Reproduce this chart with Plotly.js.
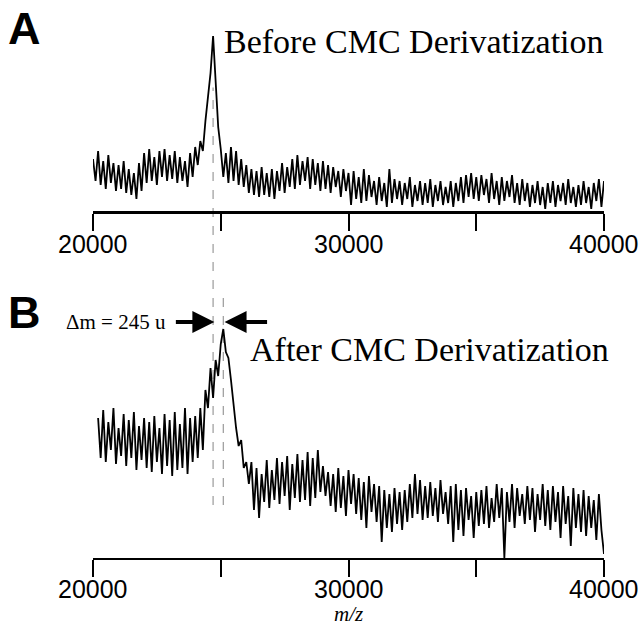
<!DOCTYPE html>
<html>
<head>
<meta charset="utf-8">
<script src="https://cdn.plot.ly/plotly-3.0.1.min.js"></script>
<style>
  html, body { margin: 0; padding: 0; background: #fff; }
  #chart { width: 640px; height: 625px; }
</style>
</head>
<body>
<div id="chart"></div>
<script>
// ============================================================
// Mass spectra — before / after CMC derivatization
// ============================================================

const MZ_STEP = 100;
const MZ_START_A = 20000;
const MZ_START_B = 20200;

// relative intensity (arbitrary units), one value per MZ_STEP
const INTENSITY_A = [
  52, 30, 60, 26, 50, 22, 56, 28, 48, 20,
  46, 22, 50, 18, 42, 16, 38, 12, 48, 20,
  58, 28, 62, 30, 54, 26, 60, 34, 62, 30,
  56, 32, 60, 28, 54, 30, 50, 24, 58, 34,
  64, 46, 70, 60, 90, 112, 138, 175, 128, 84,
  62, 34, 58, 28, 64, 30, 60, 26, 52, 24,
  46, 18, 42, 16, 40, 14, 44, 16, 38, 14,
  42, 12, 40, 20, 48, 18, 44, 24, 52, 22,
  56, 26, 50, 30, 54, 22, 52, 26, 48, 20,
  50, 22, 46, 18, 44, 24, 40, 14, 42, 20,
  38, 6, 40, 12, 34, 8, 42, 10, 36, 14,
  30, 6, 34, 10, 28, 4, 42, 8, 32, 12,
  30, 6, 28, 12, 34, 4, 26, 10, 30, 6,
  28, 8, 32, 4, 26, 10, 30, 6, 24, 8,
  30, 4, 28, 10, 34, 8, 36, 14, 38, 12,
  34, 10, 36, 16, 32, 8, 38, 12, 30, 6,
  34, 10, 30, 14, 36, 8, 28, 6, 32, 10,
  28, 4, 26, 8, 30, 6, 24, 2, 28, 8,
  30, 4, 26, 10, 28, 6, 32, 8, 24, 4,
  26, 6, 30, 8, 24, 2, 28, 10, 32, 4,
  30
];

const INTENSITY_B = [
  140, 100, 148, 96, 136, 108, 150, 94, 130, 102,
  144, 92, 138, 100, 146, 88, 132, 98, 140, 90,
  136, 86, 142, 96, 130, 84, 144, 92, 138, 82,
  146, 88, 134, 90, 150, 84, 140, 96, 142, 100,
  150, 108, 168, 150, 190, 160, 198, 182, 214, 229,
  206, 200, 178, 150, 130, 112, 118, 90, 96, 74,
  96, 48, 90, 40, 84, 56, 98, 50, 88, 58,
  100, 54, 96, 62, 102, 48, 94, 60, 104, 56,
  98, 58, 106, 52, 100, 60, 108, 66, 92, 62,
  86, 52, 84, 46, 90, 50, 82, 42, 88, 54,
  84, 44, 80, 38, 76, 30, 82, 46, 74, 36,
  72, 16, 68, 30, 64, 26, 70, 34, 66, 28,
  68, 36, 74, 40, 84, 44, 78, 38, 72, 40,
  76, 42, 70, 36, 78, 44, 66, 34, 72, 16,
  74, 28, 68, 22, 70, 38, 62, 20, 66, 32,
  68, 34, 72, 30, 60, 36, 74, 40, 70, 0,
  66, 36, 74, 30, 70, 42, 64, 34, 72, 38,
  70, 26, 64, 38, 74, 32, 68, 28, 72, 36,
  66, 20, 72, 34, 62, 12, 70, 30, 64, 26,
  68, 22, 62, 30, 58, 18, 64, 28, 4
];

const TICK_VALS = [20000, 25000, 30000, 35000, 40000];
const TICK_LABEL_VALS = [20000, 30000, 40000];
const TICK_LABEL_TEXT = ["20000", "30000", "40000"];

const PEAK_MZ_A = 24700;
const PEAK_MZ_B = 25100;
const TITLE_A = "Before CMC Derivatization";
const TITLE_B = "After CMC Derivatization";
const DELTA_LABEL = "\u0394m = 245 u";
const X_TITLE = "<i>m/z</i>";

const SpectraChart = (function () {
  const SANS = "Liberation Sans, Arial, sans-serif";
  const SERIF = "Liberation Serif, Times New Roman, serif";
  const DASH_GREY = "#9a9a9a";

  function spectrum(values, x0, xa, ya) {
    return {
      type: "scatter", mode: "lines",
      x0: x0, dx: MZ_STEP, y: values,
      xaxis: xa, yaxis: ya,
      line: { color: "#000", width: 1.8 },
      hoverinfo: "skip",
    };
  }

  function xAxis(anchor, lineWidth) {
    return {
      anchor: anchor, domain: [0, 1], range: [20000, 40000],
      showgrid: false, zeroline: false,
      showline: true, linecolor: "#000", linewidth: lineWidth,
      ticks: "outside", ticklen: 17, tickwidth: 2, tickcolor: "#000",
      tickmode: "array", tickvals: TICK_VALS, showticklabels: false,
    };
  }

  // tick labels placed as annotations so they can sit close to the ticks
  function tickLabels(xref, yPaper) {
    return TICK_LABEL_VALS.map((v, i) => ({
      xref: xref, yref: "paper", x: v, y: yPaper,
      xanchor: "center", yanchor: "middle", showarrow: false,
      text: TICK_LABEL_TEXT[i],
      font: { family: SANS, size: 25, color: "#000" },
    }));
  }

  function arrow(mz, ax) {
    return {
      xref: "x2", yref: "paper", x: mz, y: 0.485,
      text: "", showarrow: true, axref: "pixel", ayref: "pixel",
      ax: ax, ay: 0, arrowhead: 2, arrowsize: 1.1, arrowwidth: 4,
      arrowcolor: "#000", standoff: 0,
    };
  }

  function buildLayout() {
    return {
      width: 640, height: 625,
      margin: { l: 93, r: 36, t: 0, b: 0 },
      paper_bgcolor: "#fff", plot_bgcolor: "rgba(0,0,0,0)",
      showlegend: false,
      xaxis: xAxis("y", 3),
      yaxis: { domain: [0.6624, 0.9504], range: [0, 180], visible: false },
      xaxis2: xAxis("y2", 2),
      yaxis2: { domain: [0.1072, 0.4864], range: [0, 237], visible: false },
      shapes: [
        { type: "line", layer: "below", xref: "x", yref: "paper",
          x0: PEAK_MZ_A, x1: PEAK_MZ_A, y0: 0.192, y1: 0.86,
          line: { color: DASH_GREY, width: 1.2, dash: "dash" } },
        { type: "line", layer: "below", xref: "x2", yref: "paper",
          x0: PEAK_MZ_B, x1: PEAK_MZ_B, y0: 0.192, y1: 0.536,
          line: { color: DASH_GREY, width: 1.2, dash: "dash" } },
      ],
      annotations: [
        { xref: "paper", yref: "paper", x: -0.17, y: 0.954, xanchor: "left", yanchor: "middle",
          text: "<b>A</b>", showarrow: false, font: { family: SANS, size: 45, color: "#000" } },
        { xref: "paper", yref: "paper", x: -0.17, y: 0.5, xanchor: "left", yanchor: "middle",
          text: "<b>B</b>", showarrow: false, font: { family: SANS, size: 45, color: "#000" } },
        { xref: "paper", yref: "paper", x: 0.2524, y: 0.933, xanchor: "left", yanchor: "middle",
          text: TITLE_A, showarrow: false, font: { family: SERIF, size: 34, color: "#000" } },
        { xref: "paper", yref: "paper", x: 0.3033, y: 0.441, xanchor: "left", yanchor: "middle",
          text: TITLE_B, showarrow: false, font: { family: SERIF, size: 34, color: "#000" } },
        { xref: "paper", yref: "paper", x: 0.1468, y: 0.485, xanchor: "right", yanchor: "middle",
          text: DELTA_LABEL, showarrow: false, font: { family: SERIF, size: 21, color: "#000" } },
        { xref: "x2", yref: "paper", x: 30000, y: 0.017, xanchor: "center", yanchor: "middle",
          text: X_TITLE, showarrow: false, font: { family: SERIF, size: 21, color: "#000" } },
        arrow(PEAK_MZ_A + 50, -40),
        arrow(PEAK_MZ_B + 50, 44),
      ].concat(tickLabels("x", 0.61), tickLabels("x2", 0.058)),
    };
  }

  function draw() {
    const traces = [
      spectrum(INTENSITY_A, MZ_START_A, "x", "y"),
      spectrum(INTENSITY_B, MZ_START_B, "x2", "y2"),
    ];
    Plotly.newPlot("chart", traces, buildLayout(), { staticPlot: true, displayModeBar: false });
  }

  return { draw };
})();

SpectraChart.draw();
</script>
</body>
</html>
